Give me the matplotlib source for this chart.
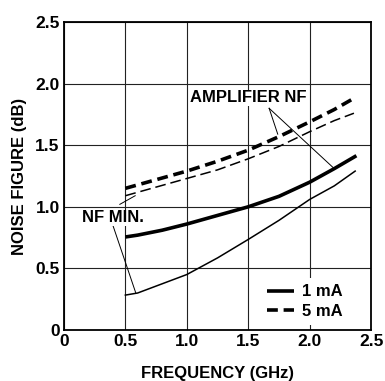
import matplotlib
matplotlib.use("Agg")
import matplotlib.pyplot as plt

plt.rcParams['font.family'] = ['Liberation Sans', 'DejaVu Sans']
plt.rcParams['font.weight'] = 'bold'

freq_amp_1mA = [0.5, 0.6, 0.8, 1.0, 1.25, 1.5, 1.75, 2.0, 2.2, 2.38]
nf_amp_1mA = [0.755, 0.77, 0.81, 0.86, 0.93, 1.0, 1.085, 1.2, 1.31, 1.415]
freq_min_1mA = [0.5, 0.6, 0.8, 1.0, 1.25, 1.5, 1.75, 2.0, 2.2, 2.37]
nf_min_1mA = [0.283, 0.30, 0.375, 0.45, 0.585, 0.735, 0.89, 1.06, 1.17, 1.29]
freq_amp_5mA = [0.5, 0.75, 1.0, 1.25, 1.5, 1.75, 2.0, 2.2, 2.34]
nf_amp_5mA = [1.15, 1.22, 1.29, 1.37, 1.46, 1.57, 1.69, 1.79, 1.87]
freq_min_5mA = [0.5, 0.75, 1.0, 1.25, 1.5, 1.75, 2.0, 2.2, 2.36]
nf_min_5mA = [1.09, 1.16, 1.23, 1.30, 1.39, 1.49, 1.61, 1.70, 1.76]

xticks = [0, 0.5, 1.0, 1.5, 2.0, 2.5]
xticklabels = ["0", "0.5", "1.0", "1.5", "2.0", "2.5"]
yticks = [0, 0.5, 1.0, 1.5, 2.0, 2.5]
yticklabels = ["0", "0.5", "1.0", "1.5", "2.0", "2.5"]

fig = plt.figure(figsize=(3.85, 3.81), dpi=100)
ax = fig.add_axes([0.166, 0.134, 0.798, 0.808])

ax.plot(freq_amp_1mA, nf_amp_1mA, color='black', lw=2.6, solid_capstyle='butt', label='1 mA')
ax.plot(freq_min_1mA, nf_min_1mA, color='black', lw=1.1)
ax.plot(freq_amp_5mA, nf_amp_5mA, color='black', lw=2.6, dashes=(3.0, 1.6), label='5 mA')
ax.plot(freq_min_5mA, nf_min_5mA, color='black', lw=1.1, dashes=(7, 3.2))

ax.set_xlim(0, 2.5)
ax.set_ylim(0, 2.5)
ax.set_xticks(xticks)
ax.set_xticklabels(xticklabels)
ax.set_yticks(yticks)
ax.set_yticklabels(yticklabels)
ax.tick_params(length=0, labelsize=12.5, pad=3)
for lbl in ax.get_xticklabels() + ax.get_yticklabels():
    lbl.set_fontweight('bold')
ax.grid(True, color='#222222', lw=0.8)
ax.set_axisbelow(True)
for s in ax.spines.values():
    s.set_linewidth(1.3)

ax.set_xlabel('FREQUENCY (GHz)', fontsize=12, fontweight='bold', labelpad=12)
ax.set_ylabel('NOISE FIGURE (dB)', fontsize=12, fontweight='bold', labelpad=6)

# annotations
ax.text(1.5, 1.885, 'AMPLIFIER NF', fontsize=12, fontweight='bold', ha='center', va='center',
        bbox=dict(facecolor='white', edgecolor='none', pad=0.5))
ax.plot([1.67, 1.74], [1.80, 1.59], color='black', lw=0.7)
ax.plot([1.67, 2.20], [1.80, 1.31], color='black', lw=0.7)

ax.text(0.40, 0.91, 'NF MIN.', fontsize=12, fontweight='bold', ha='center', va='center',
        bbox=dict(facecolor='white', edgecolor='none', pad=0.5))
ax.plot([0.455, 0.58], [1.02, 1.09], color='black', lw=0.7)
ax.plot([0.396, 0.585], [0.857, 0.30], color='black', lw=0.7)

leg = ax.legend(loc='lower right', bbox_to_anchor=(0.93, 0.015), borderaxespad=0,
                frameon=True, facecolor='white', edgecolor='none', framealpha=1,
                fancybox=False, fontsize=12,
                handlelength=1.6, handletextpad=0.5, labelspacing=0.25)
for t in leg.get_texts():
    t.set_fontweight('bold')

fig.savefig('out.png', dpi=100)
